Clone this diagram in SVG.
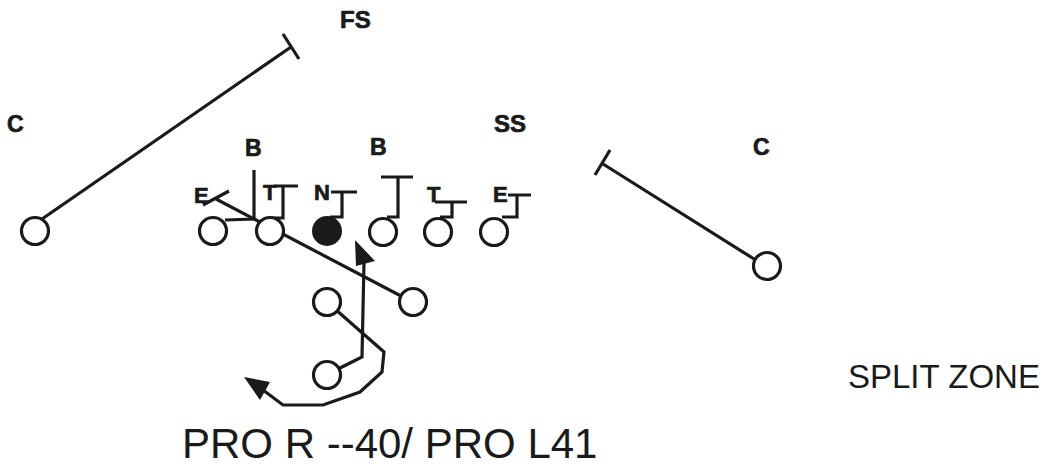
<svg xmlns="http://www.w3.org/2000/svg" width="1053" height="466" viewBox="0 0 1053 466">
<style>
.ln{fill:none;stroke:#1a1a1a;stroke-width:3.2;stroke-linejoin:miter;stroke-linecap:butt}
.pl{fill:#fff;stroke:#1a1a1a;stroke-width:3.2}
.ah{fill:#1a1a1a;stroke:none}
.lb{font-family:"Liberation Sans",Arial,sans-serif;font-weight:bold;fill:#1a1a1a;stroke:#1a1a1a;stroke-width:0.7}
.big{font-family:"Liberation Sans",Arial,sans-serif;fill:#1a1a1a}
</style>
<rect width="1053" height="466" fill="#fff"/>
<g id="connectors">
  <path class="ln" d="M42,219 L291,47 M283,34 L299,59"/>
  <path class="ln" d="M754,259 L603,164 M610,150 L595,175"/>
  <path class="ln" d="M401,296 L216,199 M203,205 L229,191"/>
  <path class="ln" d="M225,220 L254,219 L254,170"/>
  <path class="ln" d="M272,218 L283,218 L283,186 M274,186 L298,186"/>
  <path class="ln" d="M330,217 L342,217 L342,192 M331,192 L357,192"/>
  <path class="ln" d="M387,217 L398,217 L398,177 M381,177 L413,177"/>
  <path class="ln" d="M440,217 L452,217 L452,202 M435,202 L467,202"/>
  <path class="ln" d="M502,217 L517,217 L517,195 M508,195 L531,195"/>
  <path class="ln" d="M338,369 L362,357 L364,262"/>
  <polygon class="ah" points="355,240 356,266 375,261"/>
  <path class="ln" d="M335,309 L384,352 L382,372 L360,392 L323,405 L283,405 L259,387"/>
  <polygon class="ah" points="244,377 260,400 270,382"/>
</g>
<g id="node-c-left">
  <circle class="pl" cx="35" cy="231" r="13.5"/>
  <text class="lb" x="7" y="132" font-size="23">C</text>
</g>
<g id="node-fs"><text class="lb" x="340" y="28" font-size="24">FS</text></g>
<g id="node-ss"><text class="lb" x="494" y="132" font-size="24">SS</text></g>
<g id="node-c-right">
  <circle class="pl" cx="767" cy="266" r="13.5"/>
  <text class="lb" x="753" y="155" font-size="23">C</text>
</g>
<g id="node-b-left"><text class="lb" x="245" y="156" font-size="23">B</text></g>
<g id="node-b-right"><text class="lb" x="370" y="155" font-size="23">B</text></g>
<g id="node-e-left"><text class="lb" x="194" y="203" font-size="22">E</text></g>
<g id="node-t-left"><text class="lb" x="263" y="200" font-size="22">T</text></g>
<g id="node-n"><text class="lb" x="314" y="200" font-size="22">N</text></g>
<g id="node-t-right"><text class="lb" x="427" y="202" font-size="22">T</text></g>
<g id="node-e-right"><text class="lb" x="493" y="202" font-size="22">E</text></g>
<g id="node-lt"><circle class="pl" cx="213" cy="231" r="13.5"/></g>
<g id="node-lg"><circle class="pl" cx="270" cy="231" r="13.5"/></g>
<g id="node-center"><circle cx="327" cy="231" r="15" fill="#1a1a1a"/></g>
<g id="node-rg"><circle class="pl" cx="383" cy="232" r="13.5"/></g>
<g id="node-rt"><circle class="pl" cx="438" cy="232" r="13.5"/></g>
<g id="node-te"><circle class="pl" cx="494" cy="232" r="13.5"/></g>
<g id="node-back-left"><circle class="pl" cx="327" cy="302" r="13.5"/></g>
<g id="node-back-right"><circle class="pl" cx="413" cy="302" r="13.5"/></g>
<g id="node-back-deep"><circle class="pl" cx="327" cy="375" r="13.5"/></g>
<g id="title-split"><text class="big" x="848" y="388" font-size="33">SPLIT ZONE</text></g>
<g id="title-pro"><text class="big" x="182" y="458" font-size="42">PRO R --40/ PRO L41</text></g>
</svg>
